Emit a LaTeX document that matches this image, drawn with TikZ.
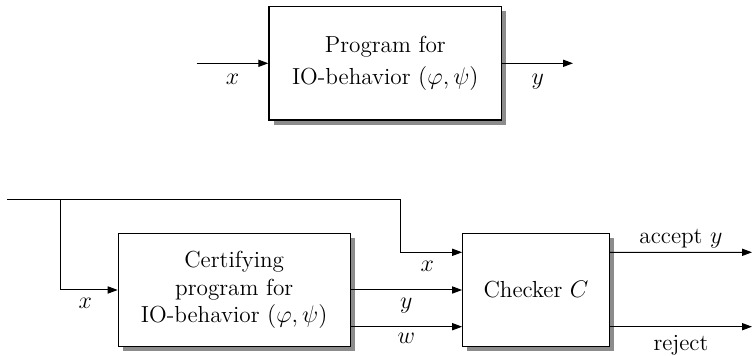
\documentclass[tikz,border=0pt]{standalone}
\usetikzlibrary{arrows.meta,shadows,calc}
\begin{document}
\begin{tikzpicture}[x=0.5pt,y=-0.5pt,
  font=\fontsize{11.6}{13.7}\selectfont,
  blk/.style={draw=black,line width=0.6pt,fill=white,align=center,inner sep=0pt,
    minimum height=56.7pt,
    drop shadow={shadow xshift=2.3pt,shadow yshift=-2.3pt,fill=black!45,opacity=1}},
  conn/.style={line width=0.5pt,-{Triangle[length=5pt,width=3.6pt]}},
  wire/.style={line width=0.5pt},
  lbl/.style={inner sep=2pt}]
\useasboundingbox (0,0) rectangle (753,356);
% top
\node[blk,minimum width=116.4pt] (prog) at (385.3,63.3) {Program for\\[2.3pt]IO-behavior $(\varphi,\psi)$};
\coordinate (in) at (196.7,63.3);
\coordinate (out) at (573,63.3);
\draw[conn] (in) -- node[below,lbl,yshift=-3pt] {$x$} (prog.west);
\draw[conn] (prog.east) -- node[below,lbl,yshift=-3pt] {$y$} (out);
% bottom
\node[blk,minimum width=115.9pt] (cert) at (234.2,290) {Certifying\\program for\\IO-behavior $(\varphi,\psi)$};
\node[blk,minimum width=73.3pt] (chk) at (536,290) {Checker $C$};
\coordinate (start) at (7,199.3);
\coordinate (br) at (60,199.3);
\coordinate (tr) at (400,199.3);
\coordinate (acc) at (752,252.3);
\coordinate (rej) at (752,326.7);
\draw[wire] (start) -- (tr);
\draw[conn] (tr) |- node[pos=0.72,below,lbl,yshift=-2pt] {$x$} ($(chk.west)+(0,-37.7)$);
\draw[conn] (br) |- node[pos=0.72,below,lbl,yshift=-2pt] {$x$} (cert.west);
\draw[conn] (cert.east) -- node[below,lbl,yshift=-2pt] {$y$} (chk.west);
\draw[conn] ($(cert.east)+(0,36.7)$) -- node[below,lbl,yshift=-1pt] {$w$} ($(chk.west)+(0,36.7)$);
\draw[conn] ($(chk.east)+(0,-37.7)$) -- node[above,lbl] {accept $y$} (acc);
\draw[conn] ($(chk.east)+(0,36.7)$) -- node[below,lbl,yshift=-2pt] {reject} (rej);
\end{tikzpicture}
\end{document}
